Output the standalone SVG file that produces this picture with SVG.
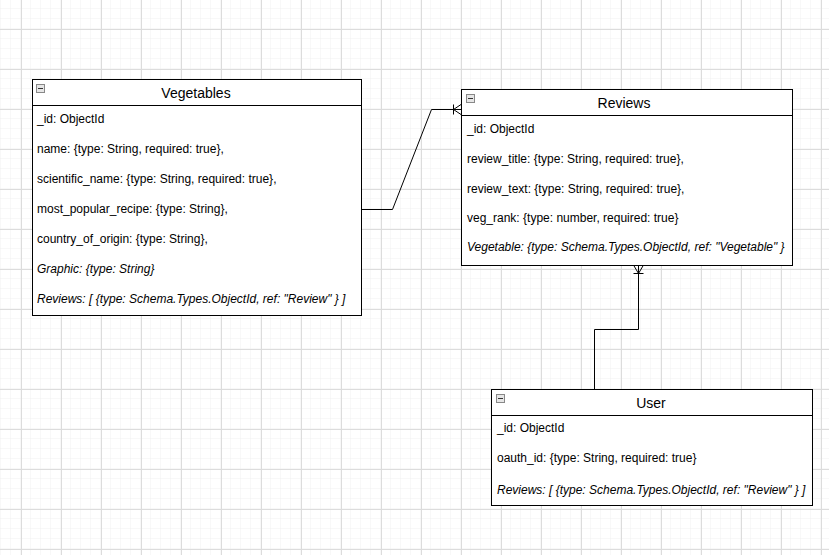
<svg xmlns="http://www.w3.org/2000/svg" width="829" height="555" viewBox="0 0 829 555">
<defs>
<pattern id="minor" x="1" y="9" width="10" height="10" patternUnits="userSpaceOnUse">
<path d="M10 0V10M0 10H10" fill="none" stroke="#f0f0f0" stroke-width="1"/>
</pattern>
<pattern id="major" x="21" y="29" width="40" height="40" patternUnits="userSpaceOnUse">
<path d="M0.5 0V40M0 0.5H40" fill="none" stroke="#dcdcdc" stroke-width="1"/>
</pattern>
<g id="minus">
<rect x="0.5" y="0.5" width="8" height="8" fill="#e6e6e6" stroke="#888" stroke-width="1"/>
<path d="M2 4.5H7" stroke="#333" stroke-width="1"/>
</g>
</defs>
<style>
.box{fill:#fff;stroke:#000;stroke-width:1}
.t{font-family:"Liberation Sans",Arial,sans-serif;font-size:12px;fill:#000}
.i{font-style:italic}
.h{font-family:"Liberation Sans",Arial,sans-serif;font-size:14px;fill:#000;text-anchor:middle}
.c{fill:none;stroke:#000;stroke-width:1}
</style>
<rect width="829" height="555" fill="#fff"/>
<rect width="829" height="555" fill="url(#minor)"/>
<rect width="829" height="555" fill="url(#major)"/>

<g id="connectors">
<path class="c" d="M361.5 209.5H392.5L431.5 109.5H461"/>
<path class="c" d="M461 104.5L453.5 109.5L461 114.5M453.5 104.5V114.5"/>
<path class="c" d="M594.5 389V329.5H638.5V265"/>
<path class="c" d="M633.5 265L638.5 273.5L643.5 265M633.5 273.5H643.5"/>
</g>

<g id="vegetables">
<rect class="box" x="32.5" y="79.5" width="329" height="236"/>
<path class="c" d="M32.5 105.5H361.5"/>
<use href="#minus" x="36" y="84"/>
<text class="h" x="196" y="98">Vegetables</text>
<text class="t" x="37" y="123">_id: ObjectId</text>
<text class="t" x="37" y="153">name: {type: String, required: true},</text>
<text class="t" x="37" y="183">scientific_name: {type: String, required: true},</text>
<text class="t" x="37" y="213">most_popular_recipe: {type: String},</text>
<text class="t" x="37" y="243">country_of_origin: {type: String},</text>
<text class="t i" x="37" y="273">Graphic: {type: String}</text>
<text class="t i" x="37" y="303">Reviews: [ {type: Schema.Types.ObjectId, ref: "Review" } ]</text>
</g>

<g id="reviews">
<rect class="box" x="461.5" y="89.5" width="331" height="176"/>
<path class="c" d="M461.5 115.5H792.5"/>
<use href="#minus" x="466" y="94"/>
<text class="h" x="624" y="108">Reviews</text>
<text class="t" x="467" y="133">_id: ObjectId</text>
<text class="t" x="467" y="163">review_title: {type: String, required: true},</text>
<text class="t" x="467" y="193">review_text: {type: String, required: true},</text>
<text class="t" x="467" y="222">veg_rank: {type: number, required: true}</text>
<text class="t i" x="467" y="251">Vegetable: {type: Schema.Types.ObjectId, ref: "Vegetable" }</text>
</g>

<g id="user">
<rect class="box" x="491.5" y="389.5" width="321" height="116"/>
<path class="c" d="M491.5 415.5H812.5"/>
<use href="#minus" x="496" y="394"/>
<text class="h" x="651" y="408">User</text>
<text class="t" x="497" y="432">_id: ObjectId</text>
<text class="t" x="497" y="462">oauth_id: {type: String, required: true}</text>
<text class="t i" x="497" y="494">Reviews: [ {type: Schema.Types.ObjectId, ref: "Review" } ]</text>
</g>
</svg>
